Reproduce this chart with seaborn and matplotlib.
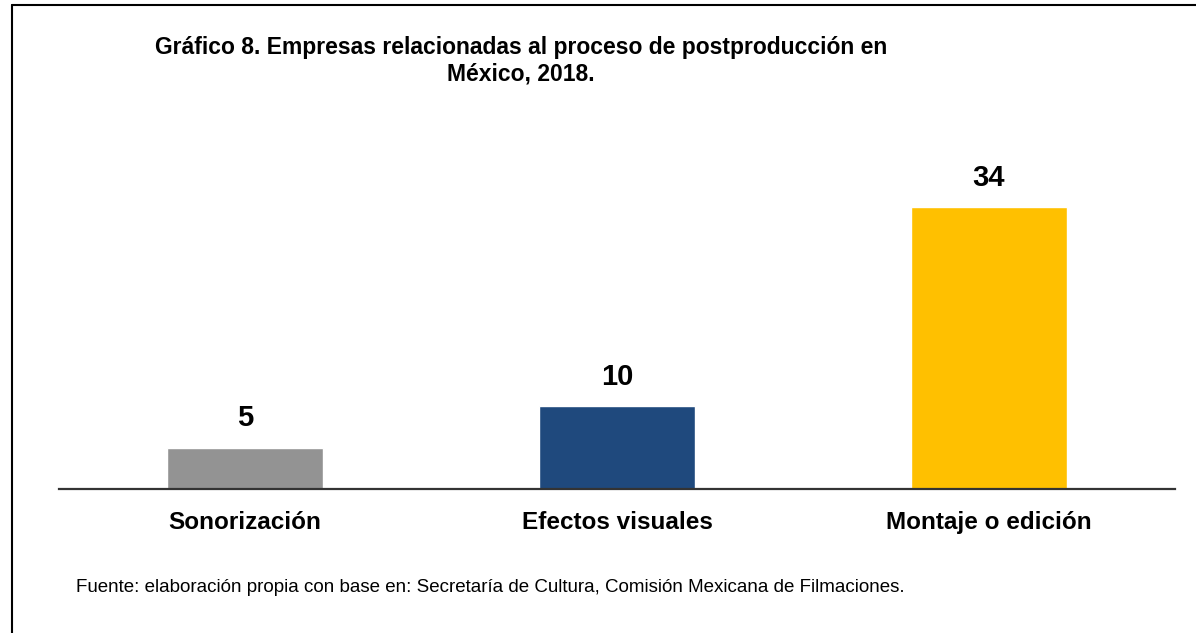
import matplotlib
matplotlib.use("Agg")
import matplotlib.pyplot as plt
import seaborn as sns
import pandas as pd
from matplotlib.lines import Line2D

# =====================================
# Data
# =====================================
categories = ["Sonorización", "Efectos visuales", "Montaje o edición"]
empresas = [5, 10, 34]
bar_colors = ["#939393", "#1F497D", "#FFC000"]

TITLE = "Gráfico 8. Empresas relacionadas al proceso de postproducción en\nMéxico, 2018."
SOURCE = ("Fuente: elaboración propia con base en: Secretaría de Cultura, "
          "Comisión Mexicana de Filmaciones.")

df = pd.DataFrame({"categoria": categories, "empresas": empresas})

# =====================================
# Figure
# =====================================
sns.set_style("white")
plt.rcParams["font.family"] = ["Liberation Sans", "DejaVu Sans"]
plt.rcParams["text.color"] = "black"
plt.rcParams["xtick.color"] = "black"

W, H = 1196, 633
fig = plt.figure(figsize=(W / 100, H / 100), dpi=100)

# axes: x 59..1175 px, y 157..489 px
ax = fig.add_axes([59 / W, 1 - 489 / H, (1175 - 59) / W, (489 - 157) / H])

sns.barplot(data=df, x="categoria", y="empresas", hue="categoria",
            palette=bar_colors, width=0.417, legend=False, ax=ax,
            saturation=1)

ax.set_xlim(-0.5, 2.5)
ax.set_ylim(0, 40)

for i, v in enumerate(empresas):
    ax.annotate(str(v), (i, v), xytext=(0, 11), textcoords="offset points",
                ha="center", va="bottom", fontsize=21, fontweight="bold",
                color="black")

ax.set_xlabel("")
ax.set_ylabel("")
ax.set_yticks([])
ax.tick_params(axis="x", length=0, pad=16, labelsize=17.5, labelcolor="black")
for lbl in ax.get_xticklabels():
    lbl.set_fontweight("bold")

for side in ["top", "right", "left"]:
    ax.spines[side].set_visible(False)
ax.spines["bottom"].set_color("#333333")
ax.spines["bottom"].set_linewidth(1.6)

# title and source
fig.text(521 / W, 1 - 36 / H, TITLE, ha="center", va="top",
         fontsize=16.5, fontweight="bold", linespacing=1.22, color="black")
fig.text(76 / W, 1 - 587 / H, SOURCE, ha="left", va="center", fontsize=13.5,
         color="black")

# frame lines (top and left)
fig.add_artist(Line2D([12 / W, 12 / W], [0, 1 - 5 / H], transform=fig.transFigure,
                      color="black", linewidth=1.5))
fig.add_artist(Line2D([12 / W, 1], [1 - 5 / H, 1 - 5 / H], transform=fig.transFigure,
                      color="black", linewidth=1.5))

fig.savefig("out.png", dpi=100, facecolor="white")
plt.close(fig)
